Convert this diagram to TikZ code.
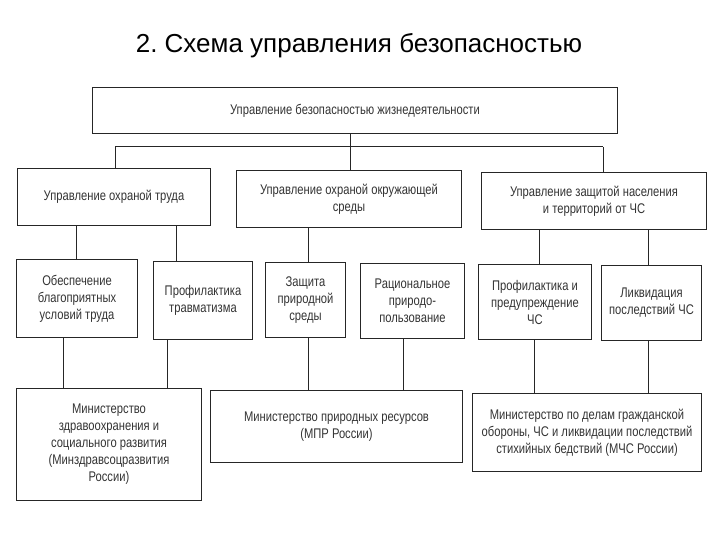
\documentclass[tikz,border=0pt]{standalone}
\usepackage{fontspec}
\setmainfont{Liberation Sans}
\newfontfamily\narrowfont{Liberation Sans}[FakeStretch=0.8]
\begin{document}
\begin{tikzpicture}[x=1pt,y=-1pt,
  box/.style={draw=black!85,line width=1pt,align=center,inner sep=1pt,font=\narrowfont\fontsize{14}{17}\selectfont,text=black!80,anchor=north west},
  conn/.style={draw=black!85,line width=1pt}]
\useasboundingbox (0,0) rectangle (720,540);
\node[font=\fontsize{26}{30}\selectfont] (title) at (359,46) {2.~Схема управления безопасностью};
% top
\node[box,minimum width=525pt,minimum height=46pt] (top) at (92,87) {Управление безопасностью жизнедеятельности};
% level 2
\node[box,minimum width=193pt,minimum height=57pt] (A) at (17,168) {Управление охраной труда};
\node[box,minimum width=225pt,minimum height=57pt] (B) at (236,170) {Управление охраной окружающей\\среды};
\node[box,minimum width=225pt,minimum height=57pt] (C) at (481,172) {Управление защитой населения\\и территорий от ЧС};
% level 3
\node[box,minimum width=121pt,minimum height=78pt] (a1) at (16,259) {Обеспечение\\благоприятных\\условий труда};
\node[box,minimum width=99pt,minimum height=78pt] (a2) at (153,261) {Профилактика\\травматизма};
\node[box,minimum width=80pt,minimum height=75pt] (b1) at (265,262) {Защита\\природной\\среды};
\node[box,minimum width=104pt,minimum height=75pt] (b2) at (360,263) {Рациональное\\природо-\\пользование};
\node[box,minimum width=113pt,minimum height=75pt] (c1) at (478,264) {Профилактика и\\предупреждение\\ЧС};
\node[box,minimum width=100pt,minimum height=75pt] (c2) at (601,265) {Ликвидация\\последствий ЧС};
% level 4
\node[box,minimum width=185pt,minimum height=112pt] (m1) at (16,388) {Министерство\\здравоохранения и\\социального развития\\(Минздравсоцразвития\\России)};
\node[box,minimum width=252pt,minimum height=72pt] (m2) at (210,390) {Министерство природных ресурсов\\(МПР России)};
\node[box,minimum width=229pt,minimum height=78pt] (m3) at (472,393) {Министерство по делам гражданской\\обороны, ЧС и ликвидации последствий\\стихийных бедствий (МЧС России)};
% connectors top
\coordinate (hl) at (115,147);
\coordinate (hm) at (350,147);
\coordinate (hr) at (603,147);
\draw[conn] (top.south -| hm) -- (hm);
\draw[conn] (hl) -- (hr);
\draw[conn] (hl) -- (hl |- A.north);
\draw[conn] (hm) -- (hm |- B.north);
\draw[conn] (hr) -- (hr |- C.north);
% level2 -> level3
\foreach \x/\f/\t in {76/A/a1,176/A/a2,308/B/b1,539/C/c1,648/C/c2}
  \draw[conn] (\f.south -| \x,0) -- (\t.north -| \x,0);
% level3 -> level4
\foreach \x/\f/\t in {63/a1/m1,167/a2/m1,308/b1/m2,403/b2/m2,534/c1/m3,648/c2/m3}
  \draw[conn] (\f.south -| \x,0) -- (\t.north -| \x,0);
\end{tikzpicture}
\end{document}
